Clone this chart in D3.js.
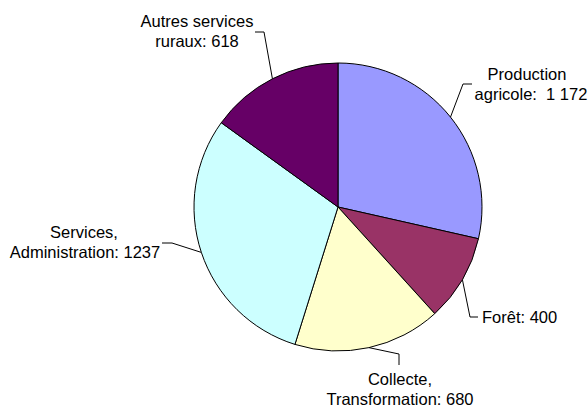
<!DOCTYPE html>
<html><head><meta charset="utf-8">
<script src="https://cdn.jsdelivr.net/npm/d3@7"></script>
<style>
html,body{margin:0;padding:0;background:#fff;}
svg{display:block;}
text{font-family:"Liberation Sans",Arial,sans-serif;font-size:16.5px;fill:#000;}
</style></head>
<body>
<svg id="chart" width="588" height="407"></svg>
<script>
const categories = ["Production agricole", "Forêt", "Collecte, Transformation", "Services, Administration", "Autres services ruraux"];
const values = [1172, 400, 680, 1237, 618];
const labelLines = [
  ["Production", "agricole:  1 172"],
  ["Forêt: 400"],
  ["Collecte,", "Transformation: 680"],
  ["Services,", "Administration: 1237"],
  ["Autres services", "ruraux: 618"]
];
const colors = ["#9999FF", "#993366", "#FFFFCC", "#CCFFFF", "#660066"];

// layout (positions kept separate from data)
const cx = 338, cy = 207, R = 144;
const layout = [
  {elbow:[463,84], end:[472,84], tx:[527,531], ty:80, anchor:"middle"},
  {elbow:[470,317], end:[478,317], tx:[482], ty:323, anchor:"start"},
  {elbow:[399,354], end:[399,365], tx:[400,400], ty:385, anchor:"middle"},
  {elbow:[172,243], end:[162,243], tx:[84,85], ty:238, anchor:"middle"},
  {elbow:[264,32], end:[255,32], tx:[197,197], ty:27, anchor:"middle"}
];

const svg = d3.select("#chart");
const g = svg.append("g").attr("transform", `translate(${cx},${cy})`);
const pie = d3.pie().sort(null).value(d => d)(values);
const arc = d3.arc().innerRadius(0).outerRadius(R);
const color = d3.scaleOrdinal().domain(categories).range(colors);

g.selectAll("path.slice").data(pie).enter().append("path")
  .attr("class","slice")
  .attr("d", arc)
  .attr("fill", (d,i) => color(categories[i]))
  .attr("stroke", "#000").attr("stroke-width", 1);

pie.forEach((d,i) => {
  const a = (d.startAngle + d.endAngle)/2;
  const sx = cx + R*Math.sin(a), sy = cy - R*Math.cos(a);
  const L = layout[i];
  svg.append("polyline")
    .attr("points", `${sx},${sy} ${L.elbow[0]},${L.elbow[1]} ${L.end[0]},${L.end[1]}`)
    .attr("fill","none").attr("stroke","#000").attr("stroke-width",1);
  const t = svg.append("text").attr("text-anchor", L.anchor).attr("xml:space","preserve").style("white-space","pre");
  labelLines[i].forEach((ln, j) => {
    t.append("tspan").attr("x", L.tx[j]).attr("y", L.ty + j*20).text(ln);
  });
});
</script>
</body></html>
